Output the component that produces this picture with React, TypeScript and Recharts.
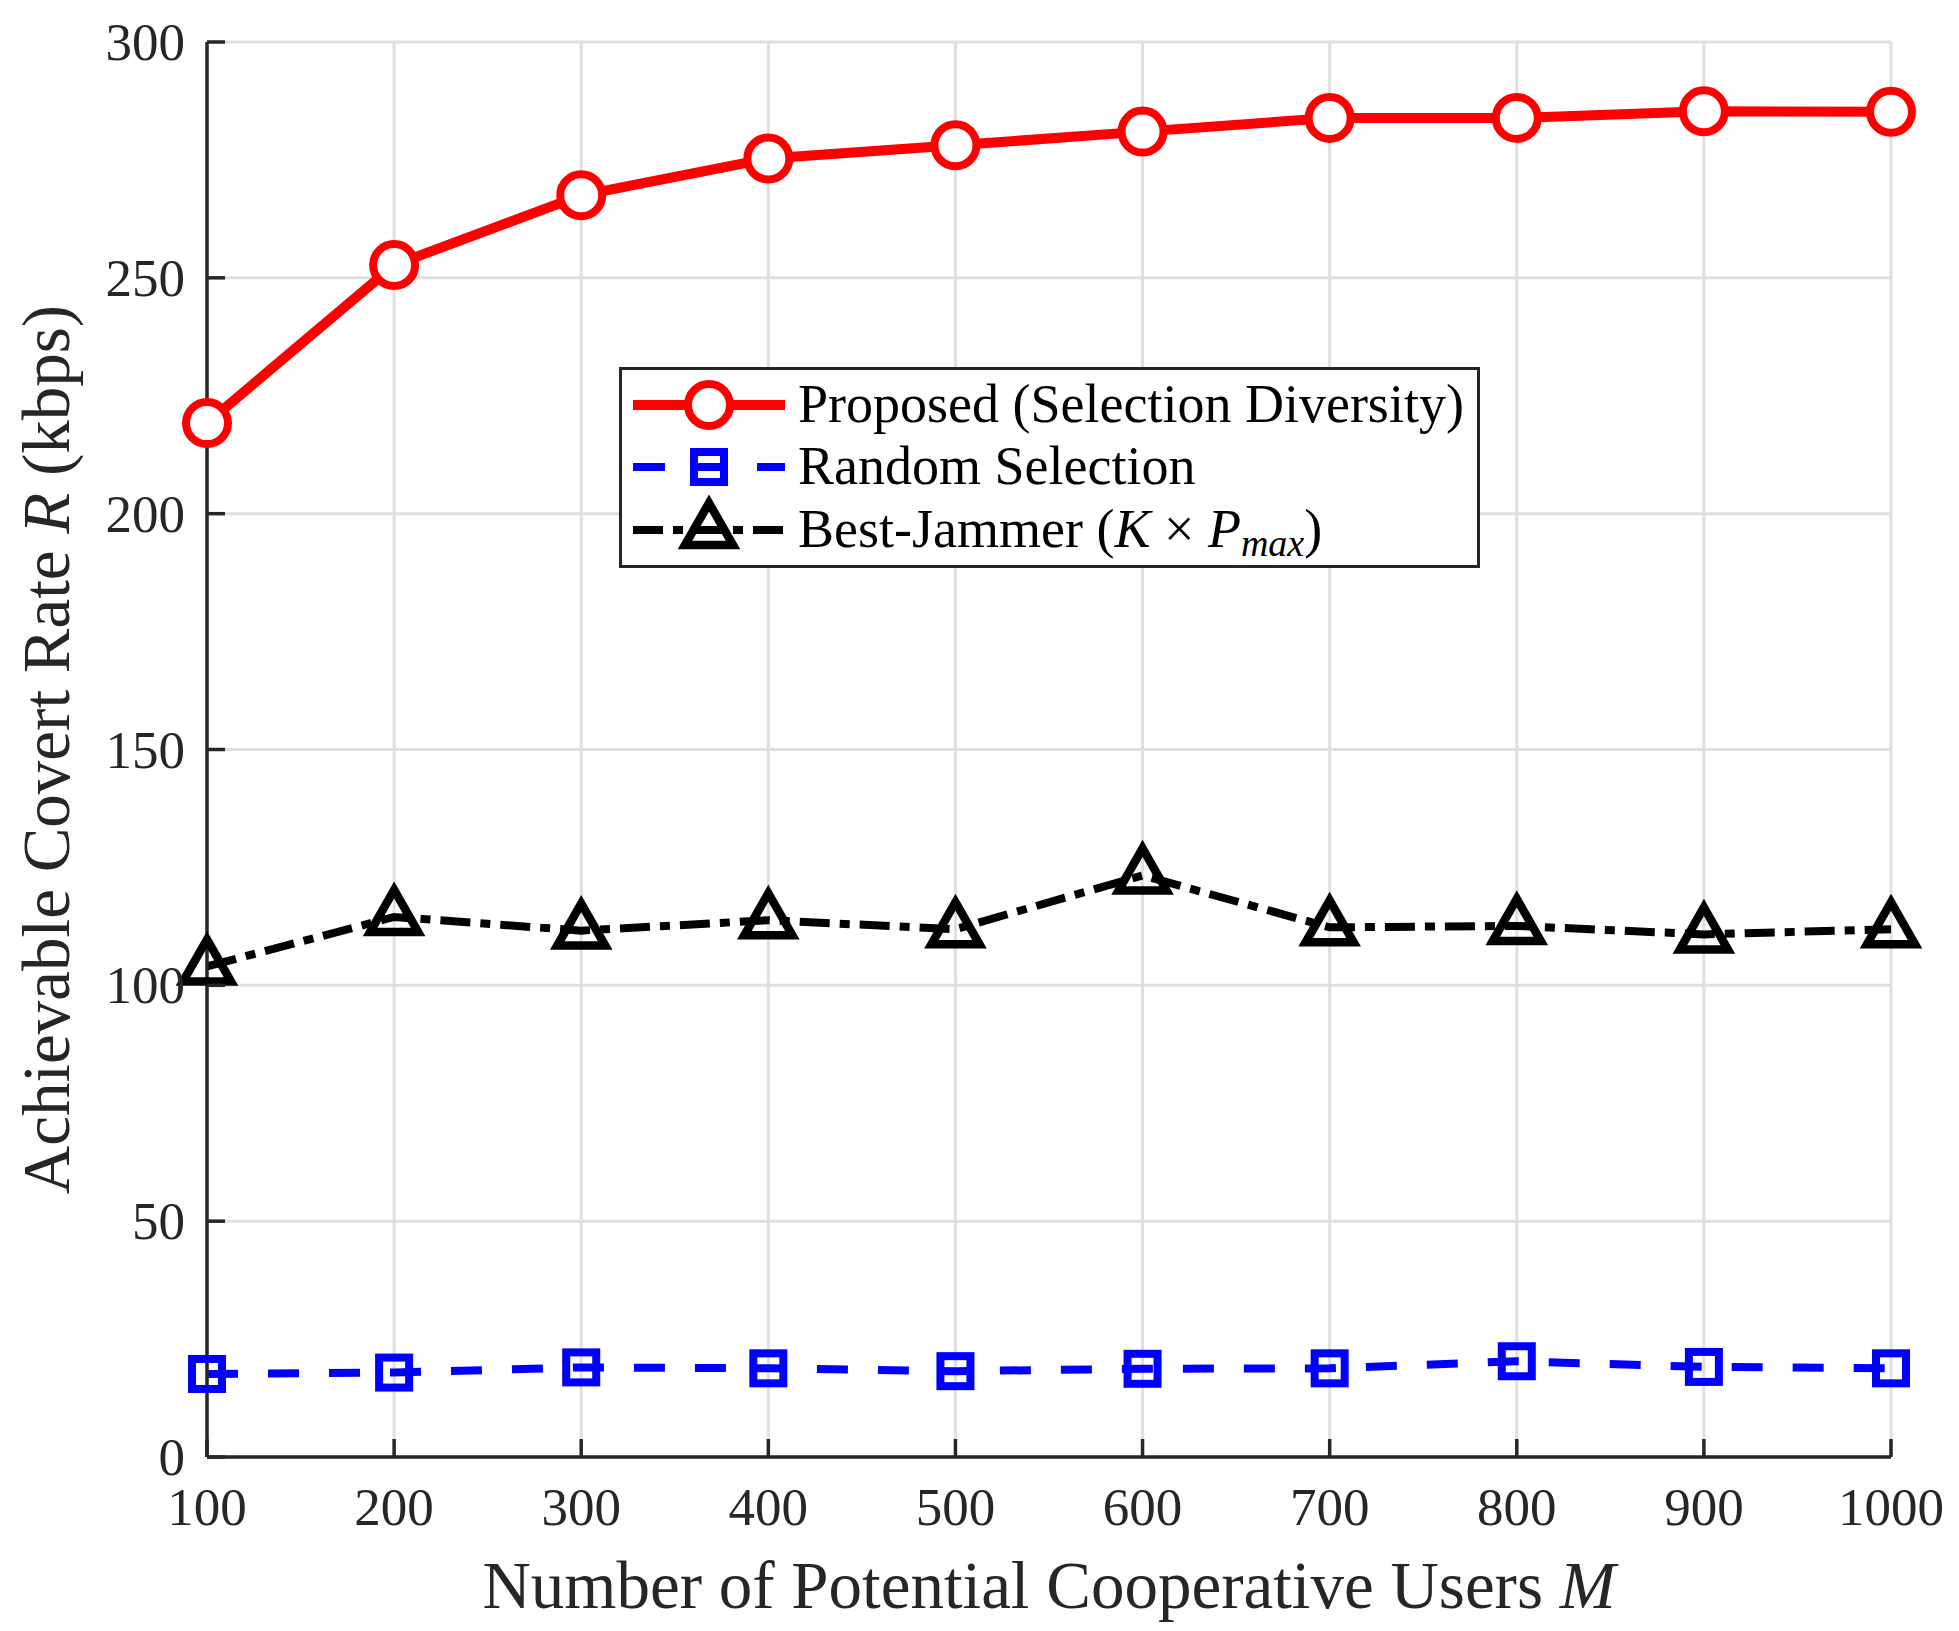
import React from 'react';
import { LineChart, Line, XAxis, YAxis, CartesianGrid, Legend } from 'recharts';

// ---- data ----
const mValues = [100, 200, 300, 400, 500, 600, 700, 800, 900, 1000];
const proposed = [219.2, 252.7, 267.5, 275.3, 278.1, 281.0, 283.9, 283.9, 285.3, 285.2];
const randomSel = [17.6, 17.9, 19.0, 18.8, 18.2, 18.7, 18.8, 20.3, 19.1, 18.8];
const bestJammer = [104.0, 114.5, 111.6, 113.8, 111.9, 123.3, 112.3, 112.6, 110.8, 111.9];
const xTicks = [100, 200, 300, 400, 500, 600, 700, 800, 900, 1000];
const yTicks = [0, 50, 100, 150, 200, 250, 300];
const seriesNames = ['Proposed (Selection Diversity)', 'Random Selection', 'Best-Jammer'];

const data = mValues.map((m, i) => ({
  m,
  proposed: proposed[i],
  random: randomSel[i],
  jammer: bestJammer[i],
}));

const FONT = '"Liberation Serif", "Times New Roman", serif';
const AX = '#262626';
const RED = '#ff0000';
const BLUE = '#0000ff';
const BLACK = '#000000';
const TICK_FS = 53;
const LABEL_FS = 67;
const LEG_FS = 54;
const TL = 18;

function BottomTick(props: any) {
  const { x, y, payload } = props;
  return (
    <g>
      <line x1={x} x2={x} y1={y} y2={y - TL} stroke={AX} strokeWidth={3.5} />
      <text x={x} y={y + 68} textAnchor="middle" fontFamily={FONT} fontSize={TICK_FS} fill={AX}>
        {payload.value}
      </text>
    </g>
  );
}
function TopTick(props: any) {
  const { x, y } = props;
  return <line x1={x} x2={x} y1={y} y2={y + TL} stroke={AX} strokeWidth={3.5} />;
}
function LeftTick(props: any) {
  const { x, y, payload } = props;
  return (
    <g>
      <line x1={x} x2={x + TL} y1={y} y2={y} stroke={AX} strokeWidth={3.5} />
      <text x={x - 22} y={y + 18} textAnchor="end" fontFamily={FONT} fontSize={TICK_FS} fill={AX}>
        {payload.value}
      </text>
    </g>
  );
}
function RightTick(props: any) {
  const { x, y } = props;
  return <line x1={x} x2={x - TL} y1={y} y2={y} stroke={AX} strokeWidth={3.5} />;
}

function CircleDot(props: any) {
  const { cx, cy, index } = props;
  if (cx == null || cy == null) return <g key={`c${index}`} />;
  return <circle key={`c${index}`} cx={cx} cy={cy} r={21} fill="#ffffff" stroke={RED} strokeWidth={8} />;
}
function SquareDot(props: any) {
  const { cx, cy, index } = props;
  if (cx == null || cy == null) return <g key={`s${index}`} />;
  return <rect key={`s${index}`} x={cx - 15} y={cy - 15} width={30} height={30} fill="none" stroke={BLUE} strokeWidth={8} />;
}
function triPath(cx: number, cy: number) {
  return `M${cx},${cy - 27} L${cx + 24},${cy + 15} L${cx - 24},${cy + 15} Z`;
}
function TriDot(props: any) {
  const { cx, cy, index } = props;
  if (cx == null || cy == null) return <g key={`t${index}`} />;
  return <path key={`t${index}`} d={triPath(cx, cy)} fill="none" stroke={BLACK} strokeWidth={8.5} />;
}

function LegendBox() {
  const rows = [35, 97, 160];
  const x1 = 11;
  const x2 = 163;
  const mx = 87;
  const tx = 176;
  return (
    <div
      style={{
        width: 861,
        height: 201,
        boxSizing: 'border-box',
        border: `3px solid ${AX}`,
        background: '#ffffff',
        position: 'relative',
      }}
    >
      <svg width={855} height={195} style={{ position: 'absolute', left: 0, top: 0 }}>
        <line x1={x1} x2={x2} y1={rows[0]} y2={rows[0]} stroke={RED} strokeWidth={10} />
        <circle cx={mx} cy={rows[0]} r={21} fill="#ffffff" stroke={RED} strokeWidth={8} />
        <text x={tx} y={rows[0] + 17} fontFamily={FONT} fontSize={LEG_FS} fill={BLACK}>
          {seriesNames[0]}
        </text>

        <line x1={x1} x2={x2} y1={rows[1]} y2={rows[1]} stroke={BLUE} strokeWidth={8} strokeDasharray="32 30" />
        <rect x={mx - 15} y={rows[1] - 15} width={30} height={30} fill="none" stroke={BLUE} strokeWidth={8} />
        <text x={tx} y={rows[1] + 17} fontFamily={FONT} fontSize={LEG_FS} fill={BLACK}>
          {seriesNames[1]}
        </text>

        <line x1={x1} x2={x2} y1={rows[2]} y2={rows[2]} stroke={BLACK} strokeWidth={8} strokeDasharray="30 10 10 10" />
        <path d={triPath(mx, rows[2])} fill="none" stroke={BLACK} strokeWidth={8.5} />
        <text x={tx} y={rows[2] + 17} fontFamily={FONT} fontSize={LEG_FS} fill={BLACK}>
          {seriesNames[2] + ' ('}
          <tspan fontStyle="italic">K</tspan>
          {' × '}
          <tspan fontStyle="italic">P</tspan>
          <tspan fontStyle="italic" fontSize={38} dy={9}>max</tspan>
          <tspan dy={-9}>)</tspan>
        </text>
      </svg>
    </div>
  );
}

function XLabel(props: any) {
  const vb = props.viewBox || { x: 207, y: 1457, width: 1684, height: 174 };
  return (
    <text x={vb.x + vb.width / 2} y={vb.y + 151} textAnchor="middle" fontFamily={FONT} fontSize={LABEL_FS} fill={AX}>
      Number of Potential Cooperative Users <tspan fontStyle="italic">M</tspan>
    </text>
  );
}
function YLabel(props: any) {
  const vb = props.viewBox || { x: 0, y: 42, width: 207, height: 1415 };
  const cx = 69;
  const cy = vb.y + vb.height / 2;
  return (
    <text
      x={cx}
      y={cy}
      transform={`rotate(-90, ${cx}, ${cy})`}
      textAnchor="middle"
      fontFamily={FONT}
      fontSize={LABEL_FS}
      fill={AX}
    >
      Achievable Covert Rate <tspan fontStyle="italic">R</tspan> (kbps)
    </text>
  );
}

export default function App() {
  return (
    <div style={{ width: 1959, height: 1631, background: '#ffffff' }}>
      <style>{'body{margin:0;background:#fff}'}</style>
      <LineChart width={1959} height={1631} data={data} margin={{ top: 42, right: 68, left: 0, bottom: 0 }}>
        <CartesianGrid stroke="#dfdfdf" strokeWidth={3} />
        <XAxis
          dataKey="m"
          type="number"
          domain={[100, 1000]}
          ticks={xTicks}
          interval={0}
          height={174}
          tickSize={0}
          tickMargin={0}
          axisLine={{ stroke: AX, strokeWidth: 3.5 }}
          tick={BottomTick}
          label={XLabel}
        />
        <XAxis
          xAxisId="top"
          orientation="top"
          dataKey="m"
          type="number"
          domain={[100, 1000]}
          allowDataOverflow
          ticks={xTicks}
          interval={0}
          height={0}
          tickSize={0}
          tickMargin={0}
          axisLine={{ stroke: AX, strokeWidth: 3.5 }}
          tick={TopTick}
        />
        <YAxis
          type="number"
          domain={[0, 300]}
          ticks={yTicks}
          interval={0}
          width={207}
          tickSize={0}
          tickMargin={0}
          axisLine={{ stroke: AX, strokeWidth: 3.5 }}
          tick={LeftTick}
          label={YLabel}
        />
        <YAxis
          yAxisId="right"
          orientation="right"
          type="number"
          domain={[0, 300]}
          allowDataOverflow
          ticks={yTicks}
          interval={0}
          width={0}
          tickSize={0}
          tickMargin={0}
          axisLine={{ stroke: AX, strokeWidth: 3.5 }}
          tick={RightTick}
        />
        <Line
          dataKey="random"
          type="linear"
          stroke={BLUE}
          strokeWidth={8}
          strokeDasharray="31 30"
          dot={SquareDot}
          activeDot={false}
          isAnimationActive={false}
        />
        <Line
          dataKey="jammer"
          type="linear"
          stroke={BLACK}
          strokeWidth={8}
          strokeDasharray="30 10 10 10"
          dot={TriDot}
          activeDot={false}
          isAnimationActive={false}
        />
        <Line
          dataKey="proposed"
          type="linear"
          stroke={RED}
          strokeWidth={10}
          dot={CircleDot}
          activeDot={false}
          isAnimationActive={false}
        />
        <Legend
          layout="vertical"
          align="center"
          verticalAlign="middle"
          wrapperStyle={{ left: 619, top: 367, width: 861, height: 201 }}
          content={() => <LegendBox />}
        />
      </LineChart>
    </div>
  );
}
